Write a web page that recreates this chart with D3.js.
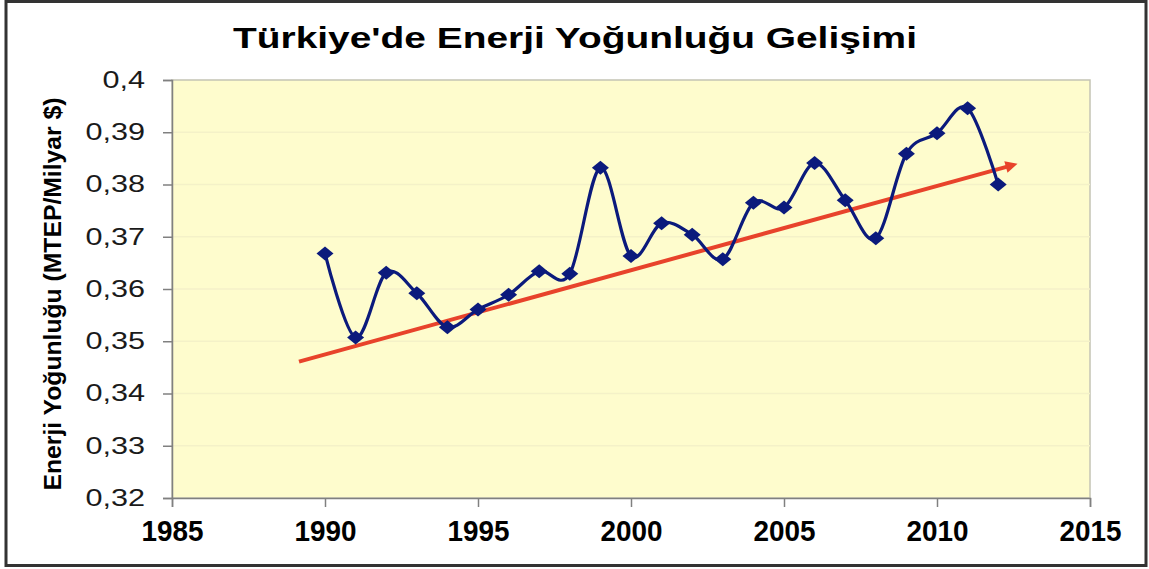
<!DOCTYPE html>
<html>
<head>
<meta charset="utf-8">
<script src="https://cdn.jsdelivr.net/npm/d3@7"></script>
<style>
    body { margin: 0; background: #fff; }
    svg { display: block; }
    text { font-family: "Liberation Sans", Arial, sans-serif; }
</style>
</head>
<body>
<svg id="chart" width="1149" height="569"></svg>
<script>
// Data
const years = [1990, 1991, 1992, 1993, 1994, 1995, 1996, 1997, 1998, 1999, 2000, 2001,
    2002, 2003, 2004, 2005, 2006, 2007, 2008, 2009, 2010, 2011, 2012];
const intensity = [0.3668, 0.3507, 0.3631, 0.3592, 0.3527, 0.3561, 0.3589, 0.3634, 0.3629,
    0.3832, 0.3663, 0.3726, 0.3704, 0.3657, 0.3765, 0.3756, 0.3841, 0.3770, 0.3697,
    0.3859, 0.3898, 0.3946, 0.3800];

// Trend arrow (start, end) in data units
const trendStart = [1989.15, 0.3461];
const trendEnd = [2012.72, 0.3841];

const xTicks = [1985, 1990, 1995, 2000, 2005, 2010, 2015];
const yTicks = [0.32, 0.33, 0.34, 0.35, 0.36, 0.37, 0.38, 0.39, 0.4];
const yTickLabels = ["0,32", "0,33", "0,34", "0,35", "0,36", "0,37", "0,38", "0,39", "0,4"];

const titleText = "Türkiye'de Enerji Yoğunluğu Gelişimi";
const yTitleText = "Enerji Yoğunluğu (MTEP/Milyar $)";

const width = 1149;
const height = 569;
const margin = { top: 80, right: 59, bottom: 71, left: 172 };
const innerWidth = width - margin.left - margin.right;
const innerHeight = height - margin.top - margin.bottom;

const lineColor = "#0b1a7c";
const trendColor = "#e8432b";
const plotBg = "#fefccd";

const svg = d3.select("#chart");

// Outer frame
svg.append("rect")
    .attr("x", 6)
    .attr("y", 1.5)
    .attr("width", 1140)
    .attr("height", 564)
    .attr("fill", "#fff")
    .attr("stroke", "#333")
    .attr("stroke-width", 3);

// Title
svg.append("text")
    .text(titleText)
    .attr("x", 575)
    .attr("y", 48)
    .attr("text-anchor", "middle")
    .attr("font-size", 29)
    .attr("font-weight", "bold")
    .attr("textLength", 684)
    .attr("lengthAdjust", "spacingAndGlyphs")
    .attr("fill", "#000");

const xScale = d3.scaleLinear().domain([1985, 2015]).range([0, innerWidth]);
const yScale = d3.scaleLinear().domain([0.32, 0.4]).range([innerHeight, 0]);

const innerChart = svg.append("g")
    .attr("transform", `translate(${margin.left},${margin.top})`);

// Plot area
innerChart.append("rect")
    .attr("width", innerWidth)
    .attr("height", innerHeight)
    .attr("fill", plotBg)
    .attr("stroke", "#c4c4b4")
    .attr("stroke-width", 1.5);

// Faint gridlines
innerChart.append("g")
    .selectAll("line")
    .data(yTicks.slice(1, -1))
    .join("line")
    .attr("x1", 0)
    .attr("x2", innerWidth)
    .attr("y1", d => yScale(d))
    .attr("y2", d => yScale(d))
    .attr("stroke", "#f4f1c8")
    .attr("stroke-width", 1.5);

// Axes
const leftAxis = d3.axisLeft(yScale)
    .tickValues(yTicks)
    .tickSize(9)
    .tickFormat((d, i) => yTickLabels[i]);
const leftG = innerChart.append("g").call(leftAxis);
leftG.select(".domain").attr("stroke", "#808080").attr("stroke-width", 1.5);
leftG.selectAll(".tick line").attr("stroke", "#808080").attr("stroke-width", 1.5);
leftG.selectAll(".tick text")
    .attr("font-family", "Liberation Sans, Arial, sans-serif")
    .attr("font-size", 23)
    .attr("fill", "#1a1a1a")
    .attr("x", -27)
    .each(function () {
        // the labels in the picture are drawn wider than the font
        const w = this.getComputedTextLength();
        d3.select(this)
            .attr("textLength", w * 1.33)
            .attr("lengthAdjust", "spacingAndGlyphs");
    });

const bottomAxis = d3.axisBottom(xScale)
    .tickValues(xTicks)
    .tickSize(9)
    .tickFormat(d3.format("d"));
const bottomG = innerChart.append("g")
    .attr("transform", `translate(0,${innerHeight})`)
    .call(bottomAxis);
bottomG.select(".domain").attr("stroke", "#808080").attr("stroke-width", 1.5);
bottomG.selectAll(".tick line").attr("stroke", "#808080").attr("stroke-width", 1.5);
bottomG.selectAll(".tick text")
    .attr("font-family", "Liberation Sans, Arial, sans-serif")
    .attr("font-size", 29)
    .attr("font-weight", "bold")
    .attr("fill", "#000")
    .attr("y", 43)
    .attr("dy", null)
    .attr("textLength", 62)
    .attr("lengthAdjust", "spacingAndGlyphs");

// Y axis title
svg.append("text")
    .text(yTitleText)
    .attr("transform", "translate(61,294) rotate(-90)")
    .attr("text-anchor", "middle")
    .attr("font-size", 23)
    .attr("font-weight", "bold")
    .attr("textLength", 393)
    .attr("lengthAdjust", "spacingAndGlyphs")
    .attr("fill", "#000");

// Trend arrow
const defs = svg.append("defs");
defs.append("marker")
    .attr("id", "arrow")
    .attr("viewBox", "0 0 10 10")
    .attr("refX", 2)
    .attr("refY", 5)
    .attr("markerWidth", 4.5)
    .attr("markerHeight", 3)
    .attr("markerUnits", "strokeWidth")
    .attr("orient", "auto")
    .append("path")
    .attr("d", "M0,0 L10,5 L0,10 Z")
    .attr("fill", trendColor);

innerChart.append("line")
    .attr("x1", xScale(trendStart[0]))
    .attr("y1", yScale(trendStart[1]))
    .attr("x2", xScale(trendEnd[0]) - 12)
    .attr("y2", yScale(trendEnd[1]) + 3.3)
    .attr("stroke", trendColor)
    .attr("stroke-width", 4)
    .attr("marker-end", "url(#arrow)");

// Smoothed series line
const data = years.map((y, i) => ({ year: y, value: intensity[i] }));
const lineGen = d3.line()
    .x(d => xScale(d.year))
    .y(d => yScale(d.value))
    .curve(d3.curveCardinal.tension(0));

innerChart.append("path")
    .datum(data)
    .attr("d", lineGen)
    .attr("fill", "none")
    .attr("stroke", lineColor)
    .attr("stroke-width", 3.2);

// Diamond markers
innerChart.selectAll(".marker")
    .data(data)
    .join("path")
    .attr("class", "marker")
    .attr("d", d => {
        const cx = xScale(d.year), cy = yScale(d.value);
        return `M${cx},${cy - 7}L${cx + 8.5},${cy}L${cx},${cy + 7}L${cx - 8.5},${cy}Z`;
    })
    .attr("fill", lineColor);
</script>
</body>
</html>
